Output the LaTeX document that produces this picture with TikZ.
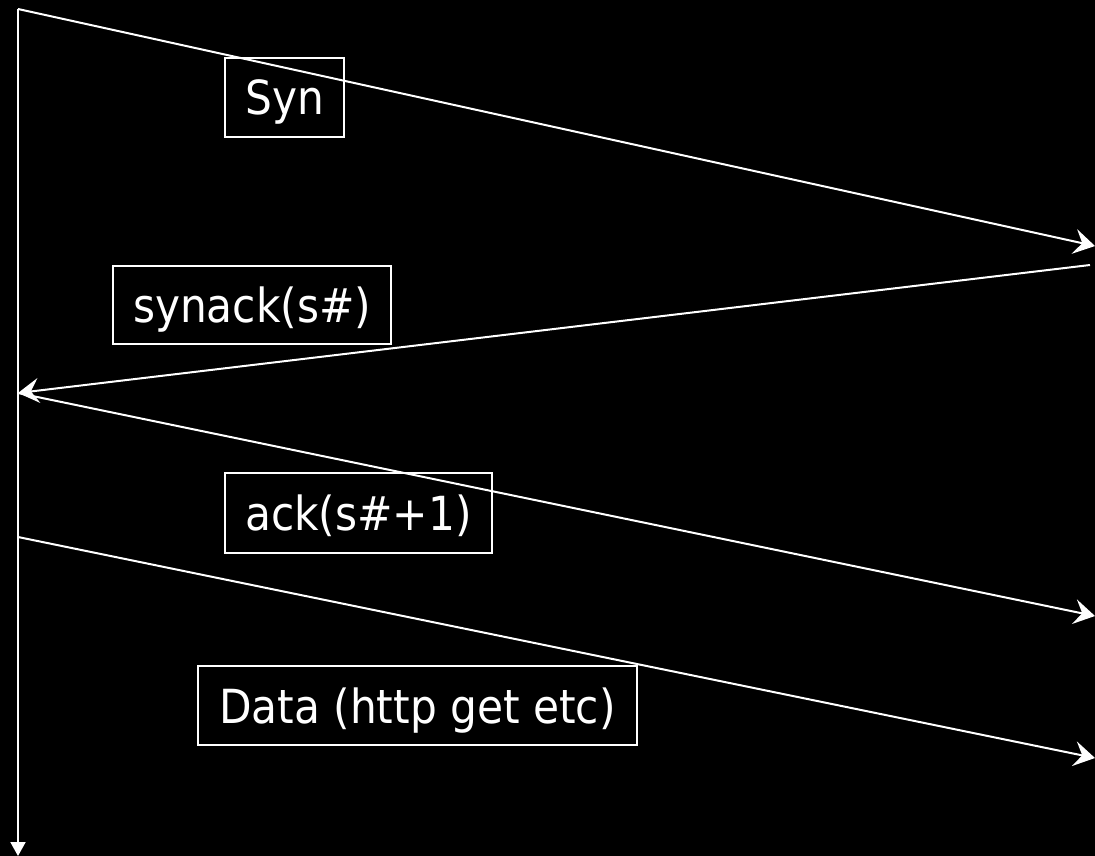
\documentclass[tikz,border=0pt]{standalone}
\usepackage{fontspec}
\setmainfont{DejaVu Sans Condensed}
\usetikzlibrary{arrows.meta}
\tikzset{
  msg/.style={line width=2pt, -{Stealth[length=21pt,width=25pt,inset=8pt]}},
  axis/.style={line width=2pt, -{Triangle[length=14pt,width=15pt]}},
  lbl/.style={draw, line width=1.6pt, inner sep=0pt, text height=35pt, text depth=0pt,
    font=\fontsize{47}{56}\selectfont}
}
\begin{document}
\begin{tikzpicture}[x=1pt,y=-1pt,white]
\fill[black] (0,0) rectangle (1095,856);
\useasboundingbox (0,0) rectangle (1095,856);

% time axis of the client
\coordinate (top) at (18,9);
\coordinate (bottom) at (18,856);
\coordinate (c1) at (18,393);
\coordinate (c2) at (18,537);
% server side points
\coordinate (s1) at (1095,246);
\coordinate (s2) at (1090,265);
\coordinate (s3) at (1095,616);
\coordinate (s4) at (1095,758);

\draw[axis] (top) -- (bottom);
\draw[msg] (top) -- (s1);
\draw[msg] (s2) -- (c1);
\draw[msg] (c1) -- (s3);
\draw[msg] (c2) -- (s4);

% message labels
\node[lbl, minimum width=119pt, minimum height=79pt] (syn) at (284.5,97.5) {Syn};
\node[lbl, minimum width=278pt, minimum height=78pt] (synack) at (252,305) {synack(s\#)};
\node[lbl, minimum width=267pt, minimum height=80pt] (ack) at (358.5,513) {ack(s\#+1)};
\node[lbl, minimum width=439pt, minimum height=79pt] (data) at (417.5,705.5) {Data (http get etc)};
\end{tikzpicture}
\end{document}
